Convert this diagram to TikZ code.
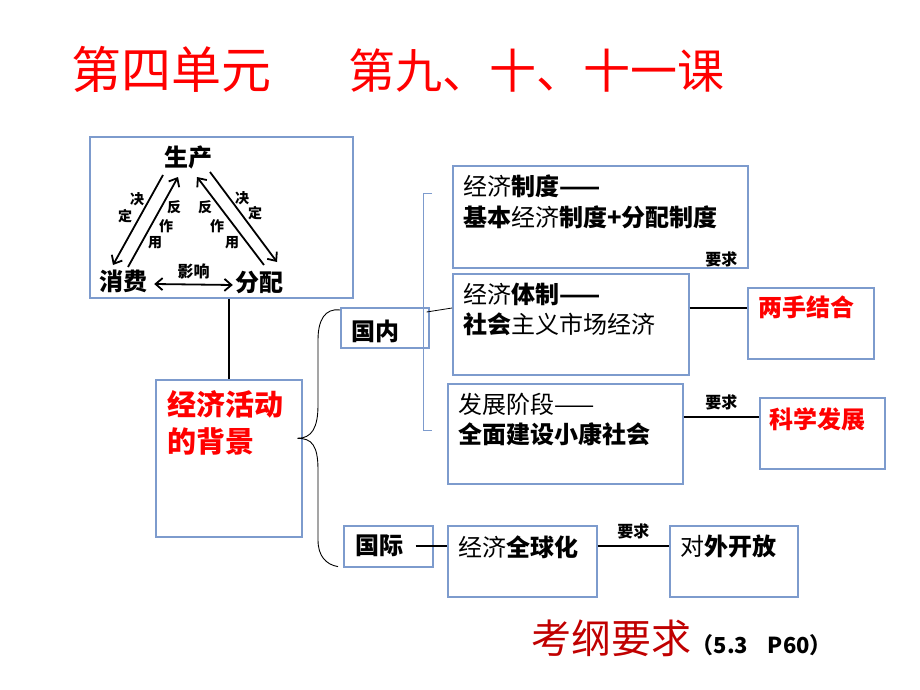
\documentclass[tikz,border=0pt]{standalone}
\usepackage{fontspec}
\usetikzlibrary{calc,positioning,arrows.meta}
\newfontfamily\cjk{Noto Sans CJK SC}
\definecolor{boxblue}{RGB}{125,155,205}
\definecolor{titlered}{RGB}{255,0,0}
\definecolor{kgred}{RGB}{192,0,0}

\begin{document}
\begin{tikzpicture}[x=1pt, y=-1pt,
  box/.style={draw=boxblue, line width=1.6pt, anchor=north west, inner sep=0pt},
  txt/.style={font=\cjk\fontsize{24}{30}\selectfont, anchor=north west, inner sep=0pt, align=left},
  word/.style={font=\cjk\bfseries\fontsize{24}{24}\selectfont, inner sep=0pt},
  tiny/.style={font=\cjk\bfseries\fontsize{14}{14}\selectfont, inner sep=0pt},
  req/.style={font=\cjk\bfseries\fontsize{16}{16}\selectfont, inner sep=0pt},
  link/.style={black, line width=1.8pt},
  arr/.style={black, line width=1.8pt, -{Straight Barb[length=7pt,width=12pt]}},
]
\useasboundingbox (0,0) rectangle (920,690);

% title
\node[font=\cjk\fontsize{50}{50}\selectfont, text=titlered, anchor=west, inner sep=0pt] (t1) at (71,69) {第四单元};
\node[font=\cjk\fontsize{47}{47}\selectfont, text=titlered, anchor=west, inner sep=0pt] (t2) at (348,71) {第九、十、十一课};

% triangle
\node[box, minimum width=263, minimum height=161] (sj) at (89,136) {};
\node[word] (sc) at (188,157) {生产};
\node[word] (xf) at (123,281) {消费};
\node[word] (fp) at (259,282) {分配};
\draw[arr] ($(sc.center)+(-25,18)$) -- ($(xf.center)+(-10,-16)$);
\draw[arr] ($(xf.center)+(5,-14)$) -- ($(sc.center)+(-10,20)$);
\draw[arr] ($(fp.center)+(5,-17)$) -- ($(sc.center)+(9,20)$);
\draw[arr] ($(sc.center)+(22,15)$) -- ($(fp.center)+(18,-20)$);
\draw[black, line width=1.8pt, {Straight Barb[length=7pt,width=12pt]}-{Straight Barb[length=7pt,width=12pt]}]
  ($(xf.east)+(7,3)$) -- node[req, above=5pt] (yx) {影响} ($(fp.west)+(-2,3)$);
\node[tiny] (j1) at (137,199) {决};
\node[tiny] (d1) at (125,216) {定};
\node[tiny] (f1) at (174,207) {反};
\node[tiny] (z1) at (166,226) {作};
\node[tiny] (y1) at (155,243) {用};
\node[tiny] (f2) at (205,207) {反};
\node[tiny] (z2) at (217,226) {作};
\node[tiny] (y2) at (232,243) {用};
\node[tiny] (j2) at (242,198) {决};
\node[tiny] (d2) at (255,213) {定};

% background
\node[box, minimum width=146, minimum height=157] (bj) at (155,379) {};
\node[txt, font=\cjk\bfseries\fontsize{29}{37}\selectfont, text=titlered, below right=11pt and 12pt of bj.north west] (bjt) {经济活动\\的背景};
\draw[link] (bj.north |- sj.south) -- (bj.north);

% domestic
\node[box, minimum width=88, minimum height=40] (gn) at (340,307) {};
\node[txt, font=\cjk\bfseries\fontsize{24}{30}\selectfont, below right=13pt and 11pt of gn.north west] (gnt) {国内};
\node[box, minimum width=295, minimum height=102] (zd) at (452,165) {};
\node[txt, below right=10pt and 11pt of zd.north west] (zdt) {经济\textbf{制度——}\\[1pt]\textbf{基本}经济\textbf{制度+分配制度}};
\node[req, above left=1pt and 11pt of zd.south east] (zdr) {要求};
\node[box, minimum width=236, minimum height=101] (tz) at (452,273) {};
\node[txt, below right=10pt and 11pt of tz.north west] (tzt) {经济\textbf{体制——}\\\textbf{社会}主义市场经济};
\node[box, minimum width=235, minimum height=100] (fz) at (447,383) {};
\node[txt, below right=10pt and 11pt of fz.north west] (fzt) {发展阶段——\\\textbf{全面建设小康社会}};
\node[box, minimum width=126, minimum height=71] (ls) at (747,287) {};
\node[txt, font=\cjk\bfseries\fontsize{24}{30}\selectfont, text=titlered, below right=9pt and 11pt of ls.north west] (lst) {两手结合};
\node[box, minimum width=125, minimum height=71] (kx) at (759,397) {};
\node[txt, font=\cjk\bfseries\fontsize{24}{30}\selectfont, text=titlered, below right=11pt and 10pt of kx.north west] (kxt) {科学发展};
\draw[boxblue, line width=0.9pt] (432,193) -- (423,193) -- (423,430) -- (432,430);
\draw[black, line width=0.8pt] ($(gn.north east)+(-3,5)$) -- ($(tz.north west)+(0,35)$);
\draw[link] ($(tz.north east)+(0,35)$) -- ($(ls.north west)+(0,21)$);
\draw[link] ($(fz.north east)+(0,34)$) -- node[req, above=6pt] (fzr) {要求} ($(kx.north west)+(0,20)$);

% international
\node[box, minimum width=89, minimum height=41] (gj) at (343,525) {};
\node[txt, font=\cjk\bfseries\fontsize{24}{30}\selectfont, below right=10pt and 12pt of gj.north west] (gjt) {国际};
\node[box, minimum width=149, minimum height=71] (qq) at (447,525) {};
\node[txt, below right=11pt and 11pt of qq.north west] (qqt) {经济\textbf{全球化}};
\node[box, minimum width=128, minimum height=71] (dw) at (669,525) {};
\node[txt, below right=10pt and 11pt of dw.north west] (dwt) {对\textbf{外开放}};
\draw[link] ($(gj.east)+(-18,0)$) -- (gj.east -| qq.west);
\draw[link] ($(qq.north east)+(0,21)$) -- node[req, above=6pt] (qqr) {要求} ($(dw.north west)+(0,21)$);

% brace
\coordinate (tip) at ($(bj.east)+(-5,-20)$);
\draw[black, line width=0.9pt] (tip) .. controls +(14,0) and +(0,23) .. (318,405) -- (318,340)
  .. controls +(0,-20) and +(-15,-2) .. ($(gn.north west)+(0,3)$);
\draw[black, line width=0.9pt] (tip) .. controls +(14,0) and +(0,-25) .. (318,470) -- (318,540)
  .. controls +(0,16) and +(-12,-2) .. ($(gj.south west)+(-5,-1)$);

% note
\node[font=\cjk\fontsize{40}{40}\selectfont, text=kgred, anchor=west, inner sep=0pt] (kg) at (531,638) {考纲要求};
\node[font=\cjk\bfseries\fontsize{22}{22}\selectfont, anchor=base west, inner sep=0pt] (ym) at (kg.base east) {（5.3\hspace{0.9em}P60）};
\end{tikzpicture}
\end{document}
